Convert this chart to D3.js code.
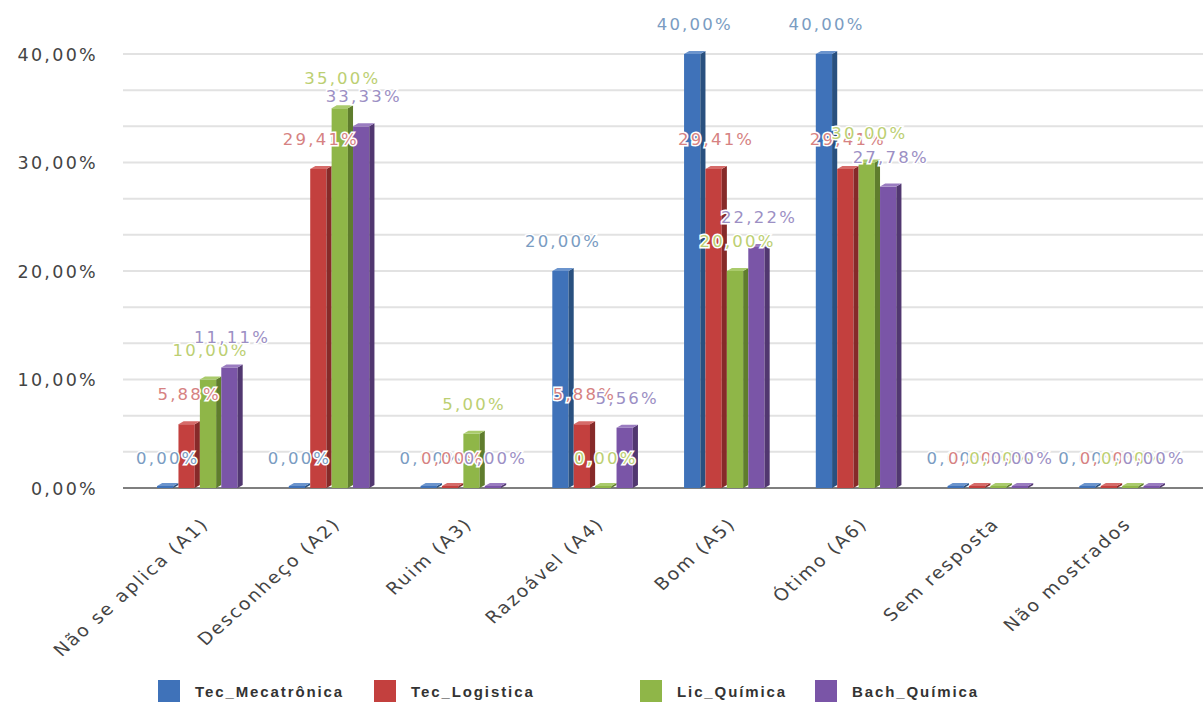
<!DOCTYPE html>
<html><head><meta charset="utf-8">
<script src="https://cdn.jsdelivr.net/npm/d3@7"></script>
<style>body{margin:0;background:#fff}svg{display:block}</style>
</head><body><svg id="c" width="1203" height="705"></svg>
<script>
const categories = ["Não se aplica (A1)","Desconheço (A2)","Ruim (A3)","Razoável (A4)","Bom (A5)","Ótimo (A6)","Sem resposta","Não mostrados"];
const seriesNames = ["Tec_Mecatrônica","Tec_Logistica","Lic_Química","Bach_Química"];
const tecMecatronica = [0, 0, 0, 20, 40, 40, 0, 0];
const tecLogistica = [5.88, 29.41, 0, 5.88, 29.41, 29.41, 0, 0];
const licQuimica = [10, 35, 5, 0, 20, 30, 0, 0];
const bachQuimica = [11.11, 33.33, 0, 5.56, 22.22, 27.78, 0, 0];
const yTicks = [0, 10, 20, 30, 40];

const seriesValues = [tecMecatronica, tecLogistica, licQuimica, bachQuimica];
const colors = ["#3f72b9", "#c3403e", "#8fb648", "#7a55a7"];
const sideColors = ["#29507f", "#862a29", "#5f7d2d", "#513770"];
const topColors = ["#6b94cd", "#d66b69", "#aacb6c", "#9a7cc0"];
const labelColors = ["#7a9cc2", "#d68282", "#bccf72", "#9c8fc4"];

const svg = d3.select("#c");
const plotL = 123, plotR = 1203, baseY = 488, topY = 54;
const y = d3.scaleLinear().domain([0, 40]).range([baseY, topY]);
const x = d3.scaleBand().domain(categories).range([134, 1188]).paddingInner(0.35).paddingOuter(0.175);
const xs = d3.scaleBand().domain(seriesNames).range([0, x.bandwidth()]).padding(0);

// grid lines (every 10/3 %)
const gridVals = d3.range(1, 13).map(i => i * 40 / 12);
svg.append("g").selectAll("line").data(gridVals).join("line")
  .attr("x1", plotL).attr("x2", plotR)
  .attr("y1", d => y(d)).attr("y2", d => y(d))
  .attr("stroke", "#e2e2e2").attr("stroke-width", 2);

// y axis labels
const yAxis = d3.axisLeft(y).tickValues(yTicks).tickSize(0).tickPadding(0)
  .tickFormat(d => d3.format(".2f")(d).replace(".", ",") + "%");
const gy = svg.append("g").attr("transform", `translate(98,0)`).call(yAxis);
gy.select(".domain").remove();
gy.selectAll("text").attr("font-family", "DejaVu Sans, sans-serif").attr("font-size", 17.5)
  .attr("fill", "#444").attr("letter-spacing", "2.3px").attr("dy", "0.35em");

// baseline
svg.append("line").attr("x1", plotL).attr("x2", plotR).attr("y1", baseY).attr("y2", baseY)
  .attr("stroke", "#555").attr("stroke-width", 1.5);

// x axis labels
const xAxis = d3.axisBottom(x).tickSize(0).tickPadding(0);
const gx = svg.append("g").attr("transform", `translate(0,${baseY})`).call(xAxis);
gx.select(".domain").remove();
gx.selectAll("text")
  .attr("font-family", "DejaVu Sans, sans-serif").attr("font-size", 17)
  .attr("fill", "#444").attr("letter-spacing", "1.8px")
  .attr("text-anchor", "end").attr("dy", 0)
  .attr("transform", "translate(10,37) scale(1.12,1) rotate(-45)");

// bars (3D look)
const dy = 3;
seriesValues.forEach((vals, si) => {
  const g = svg.append("g");
  const w = xs.bandwidth();
  const fw = w * 0.76, d = w - fw;
  vals.forEach((v, ci) => {
    const x0 = x(categories[ci]) + xs(seriesNames[si]);
    const t = Math.min(y(v), baseY - 2);
    g.append("rect").attr("x", x0).attr("y", t).attr("width", fw).attr("height", baseY - t)
      .attr("fill", colors[si]);
    g.append("polygon").attr("points", [[x0+fw, t],[x0+fw+d, t-dy],[x0+fw+d, baseY-dy],[x0+fw, baseY]].join(" "))
      .attr("fill", sideColors[si]);
    g.append("polygon").attr("points", [[x0, t],[x0+d, t-dy],[x0+fw+d, t-dy],[x0+fw, t]].join(" "))
      .attr("fill", topColors[si]);
  });
});

// value labels
seriesValues.forEach((vals, si) => {
  const g = svg.append("g");
  vals.forEach((v, ci) => {
    const cx = x(categories[ci]) + xs(seriesNames[si]) + xs.bandwidth() / 2;
    g.append("text").attr("x", cx).attr("y", y(v) - 24)
      .attr("text-anchor", "middle")
      .attr("font-family", "DejaVu Sans, sans-serif").attr("font-size", 16.5)
      .attr("letter-spacing", "2.2px")
      .attr("fill", labelColors[si]).attr("stroke", "#fff").attr("stroke-width", 3)
      .attr("paint-order", "stroke")
      .text(d3.format(".2f")(v).replace(".", ",") + "%");
  });
});

// legend
const legendX = [158, 374, 640, 815];
const lg = svg.append("g");
seriesNames.forEach((n, i) => {
  lg.append("rect").attr("x", legendX[i]).attr("y", 680).attr("width", 22).attr("height", 22).attr("fill", colors[i]);
  lg.append("text").attr("x", legendX[i] + 37).attr("y", 697)
    .attr("font-family", "Liberation Sans, Arial, sans-serif").attr("font-weight", "bold")
    .attr("font-size", 15).attr("letter-spacing", "1.9px").attr("fill", "#333").text(n);
});
</script></body></html>
